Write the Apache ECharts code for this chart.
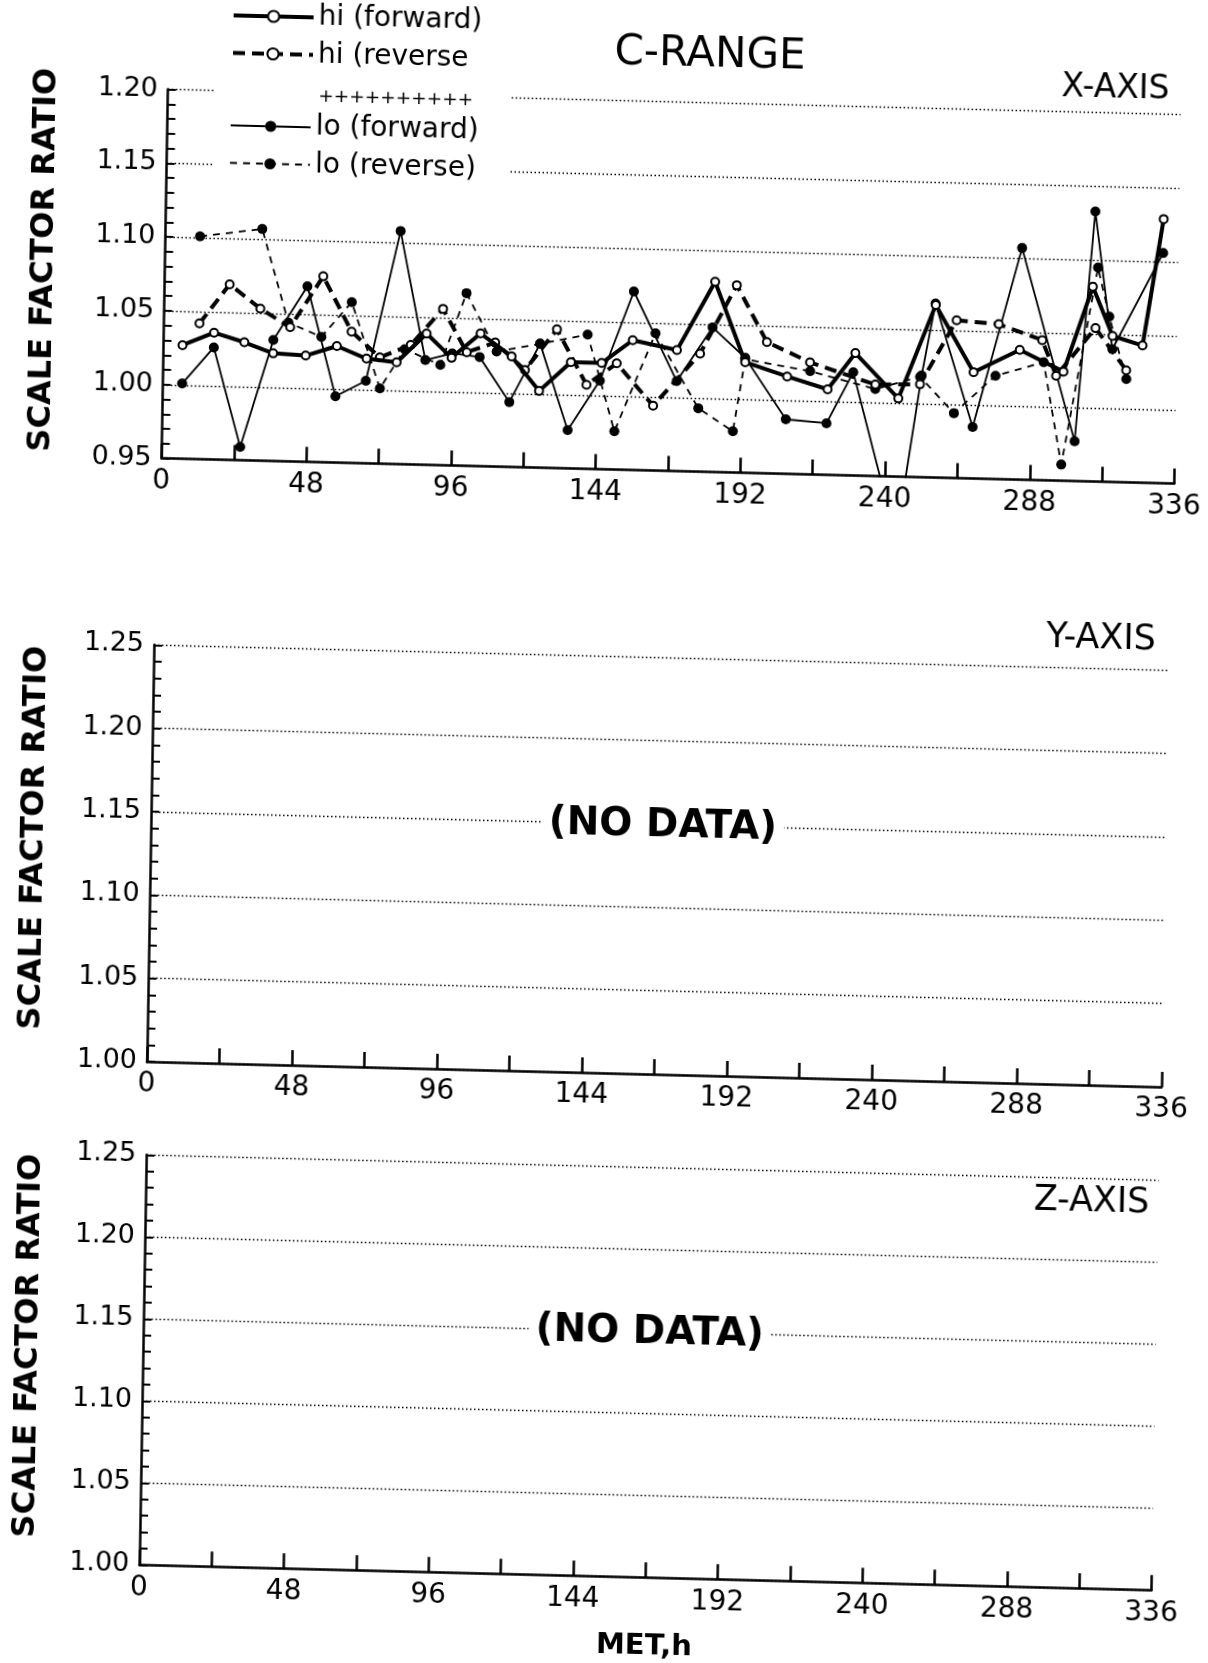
<!DOCTYPE html>
<html>
<head>
<meta charset="utf-8">
<title>C-RANGE scale factor ratio</title>
<script src="https://cdn.jsdelivr.net/npm/echarts@6/dist/echarts.min.js"></script>
<style>
  html, body { margin: 0; padding: 0; background: #fff; }
  /* the printed sheet sits slightly skewed on the page */
  #chart {
    width: 1208px; height: 1663px;
    transform: matrix(1, 0.025, -0.017, 1, 0, 0);
    transform-origin: 604px 831.5px;
  }
</style>
</head>
<body>
<div id="chart"></div>
<script>
// ---- measured data (MET in hours, scale factor ratio) ----
const hiFwdHours = [6.3, 16.7, 26.8, 36.4, 47.2, 57.5, 67.4, 77.4, 87.2, 95.6, 105.1, 115.5, 124.8, 135.2, 145.4, 155.6, 170.3, 182.6, 193, 207, 220.5, 229.5, 244, 255.9, 268.8, 284, 298.6, 307.9, 314.7, 324.7, 331];
const hiFwdRatio = [1.027, 1.036, 1.030, 1.023, 1.022, 1.029, 1.021, 1.019, 1.039, 1.023, 1.040, 1.025, 1.002, 1.022, 1.022, 1.038, 1.032, 1.079, 1.025, 1.016, 1.008, 1.033, 1.003, 1.067, 1.022, 1.038, 1.024, 1.082, 1.049, 1.043, 1.129];

const hiRevHours = [11.8, 21.6, 31.9, 41.9, 52.6, 62.3, 71.8, 82, 92.5, 100.6, 110, 120, 130.4, 140.5, 150.4, 162.7, 178, 189.8, 200.1, 214.5, 236.3, 251.1, 262.9, 276.9, 291.4, 296.2, 309, 319.4];
const hiRevRatio = [1.042, 1.069, 1.053, 1.041, 1.076, 1.039, 1.022, 1.031, 1.056, 1.027, 1.034, 1.016, 1.044, 1.007, 1.022, 0.994, 1.030, 1.077, 1.039, 1.026, 1.012, 1.013, 1.057, 1.055, 1.045, 1.021, 1.054, 1.026];

const loFwdHours = [6.4, 16.7, 26, 36.4, 47.4, 57.3, 67.3, 78, 86.9, 95.8, 104.9, 115, 124.9, 134.5, 144.9, 155.7, 170.4, 182, 193, 206.8, 220.3, 228.9, 244, 251.6, 255.8, 268.8, 284.2, 302.7, 308.3, 314.7, 331];
const loFwdRatio = [1.001, 1.026, 0.959, 1.032, 1.069, 0.995, 1.006, 1.108, 1.021, 1.026, 1.024, 0.994, 1.034, 0.976, 1.010, 1.071, 1.011, 1.048, 1.028, 0.987, 0.985, 1.020, 0.908, 1.019, 1.068, 0.985, 1.107, 0.977, 1.133, 1.040, 1.106];

const loRevHours = [11.5, 32.1, 41.3, 52.3, 62.2, 72, 80, 91.9, 100.2, 110.5, 124.9, 140.6, 150, 163.1, 177.7, 189.3, 193, 214.6, 236.3, 251.1, 262.5, 276.1, 292, 298.4, 309.5, 313.5, 319.5];
const loRevRatio = [1.101, 1.107, 1.044, 1.035, 1.059, 1.001, 1.028, 1.018, 1.067, 1.028, 1.034, 1.041, 0.976, 1.043, 0.993, 0.978, 1.027, 1.020, 1.009, 1.018, 0.994, 1.020, 1.030, 0.961, 1.095, 1.062, 1.020];

// ---- axis ranges and labels ----
const metRange = [0, 336];
const metTickStep = 24;
const metLabelStep = 48;
const ratioRangeX = [0.95, 1.20];
const ratioRangeYZ = [1.00, 1.25];
const ratioStep = 0.05;
const panelNames = ['X-AXIS', 'Y-AXIS', 'Z-AXIS'];
const noDataText = '(NO DATA)';
const legendNames = ['hi (forward)', 'hi (reverse', '++++++++++', 'lo (forward)', 'lo (reverse)'];

const FONT = 'DejaVu Sans';
const INK = '#000';

function pairs(h, v) { return h.map((x, i) => [x, v[i]]); }

const grids = [
  { left: 155.5, top: 100.6, width: 1013, height: 369 },
  { left: 151, top: 656.3, width: 1015, height: 416.7 },
  { left: 152, top: 1166.3, width: 1012.5, height: 410 }
];

function xAxisFor(i) {
  return {
    type: 'value', gridIndex: i,
    min: metRange[0], max: metRange[1], interval: metTickStep,
    axisLine: { show: true, onZero: false, lineStyle: { color: INK, width: 2.5 } },
    axisTick: { show: true, inside: true, length: 15, lineStyle: { color: INK, width: 2.5 } },
    axisLabel: {
      show: true, margin: 9, color: INK, fontFamily: FONT, fontSize: 28,
      showMinLabel: true, showMaxLabel: true, hideOverlap: false,
      formatter: v => (v % metLabelStep === 0 ? String(v) : '')
    },
    splitLine: { show: false }
  };
}

function yAxisFor(i, range) {
  return {
    type: 'value', gridIndex: i,
    min: range[0], max: range[1], interval: ratioStep,
    axisLine: { show: true, onZero: false, lineStyle: { color: INK, width: 2.5 } },
    axisTick: { show: true, inside: true, length: 8, lineStyle: { color: INK, width: 2 } },
    minorTick: { show: true, splitNumber: 5, length: 8, lineStyle: { color: INK, width: 2 } },
    axisLabel: {
      show: true, margin: 10, color: INK, fontFamily: FONT, fontSize: 27,
      showMinLabel: true, showMaxLabel: true, hideOverlap: false,
      formatter: v => v.toFixed(2)
    },
    splitLine: { show: true, lineStyle: { color: INK, width: 1.3, type: [1.5, 2.5] } }
  };
}

const lineBase = {
  type: 'line', xAxisIndex: 0, yAxisIndex: 0, clip: true,
  showSymbol: true, emphasis: { disabled: true }, silent: true
};

const series = [
  Object.assign({}, lineBase, {
    name: 'lo (reverse)', data: pairs(loRevHours, loRevRatio), z: 3,
    symbol: 'circle', symbolSize: 10,
    lineStyle: { color: INK, width: 1.8, type: [7, 6] },
    itemStyle: { color: INK }
  }),
  Object.assign({}, lineBase, {
    name: 'lo (forward)', data: pairs(loFwdHours, loFwdRatio), z: 4,
    symbol: 'circle', symbolSize: 10,
    lineStyle: { color: INK, width: 1.8 },
    itemStyle: { color: INK }
  }),
  Object.assign({}, lineBase, {
    name: 'hi (reverse', data: pairs(hiRevHours, hiRevRatio), z: 5,
    symbol: 'emptyCircle', symbolSize: 8,
    lineStyle: { color: INK, width: 4, type: [12, 7] },
    itemStyle: { color: INK, borderColor: INK, borderWidth: 2 }
  }),
  Object.assign({}, lineBase, {
    name: 'hi (forward)', data: pairs(hiFwdHours, hiFwdRatio), z: 6,
    symbol: 'emptyCircle', symbolSize: 8,
    lineStyle: { color: INK, width: 4 },
    itemStyle: { color: INK, borderColor: INK, borderWidth: 2 }
  })
];

function legendBlock(names, top) {
  return {
    data: names, orient: 'vertical', left: 218, top: top, padding: 0,
    itemWidth: 80, itemHeight: 14, itemGap: 9.5, selectedMode: false,
    lineStyle: { width: 'inherit', type: 'inherit' },
    textStyle: { color: INK, fontFamily: FONT, fontSize: 28, lineHeight: 26 }
  };
}

function sideTitle(x, y) {
  return {
    type: 'text', x: x, y: y, rotation: Math.PI / 2, z: 5,
    style: { text: 'SCALE FACTOR RATIO', fill: INK, fontFamily: FONT, fontWeight: 'bold',
             fontSize: 32, align: 'center', verticalAlign: 'middle' }
  };
}

function plainText(text, x, y, size, extra) {
  return {
    type: 'text', x: x, y: y, z: 5,
    style: Object.assign({ text: text, fill: INK, fontFamily: FONT, fontSize: size,
                           align: 'center', verticalAlign: 'middle' }, extra || {})
  };
}

const graphics = [
  // blank area behind the key so the dotted rules stop around it
  { type: 'rect', z: 1, shape: { x: 203, y: 88, width: 296, height: 94 }, style: { fill: '#fff' } },
  plainText('C-RANGE', 697, 53, 42),
  plainText(panelNames[0], 1103, 76, 33),
  plainText(panelNames[1], 1098, 627, 35),
  plainText(panelNames[2], 1098, 1190, 35),
  plainText(noDataText, 663, 825, 39, { fontWeight: 'bold', backgroundColor: '#fff', padding: [2, 7] }),
  plainText(noDataText, 658.5, 1332, 39, { fontWeight: 'bold', backgroundColor: '#fff', padding: [2, 7] }),
  plainText('MET,h', 658, 1645, 29, { fontWeight: 'bold' }),
  plainText(legendNames[2], 306, 104, 18.5, { align: 'left' }),
  sideTitle(34.5, 274),
  sideTitle(34.4, 852),
  sideTitle(37.3, 1360)
];

const option = {
  backgroundColor: '#fff',
  animation: false,
  grid: grids.map(g => Object.assign({ containLabel: false, outerBoundsMode: 'none', show: false }, g)),
  xAxis: [xAxisFor(0), xAxisFor(1), xAxisFor(2)],
  yAxis: [yAxisFor(0, ratioRangeX), yAxisFor(1, ratioRangeYZ), yAxisFor(2, ratioRangeYZ)],
  legend: [
    legendBlock([legendNames[0], legendNames[1]], 11),
    legendBlock([legendNames[3], legendNames[4]], 121)
  ],
  graphic: { elements: graphics },
  series: series
};

const chart = echarts.init(document.getElementById('chart'), null, { renderer: 'canvas' });
chart.setOption(option);
</script>
</body>
</html>
